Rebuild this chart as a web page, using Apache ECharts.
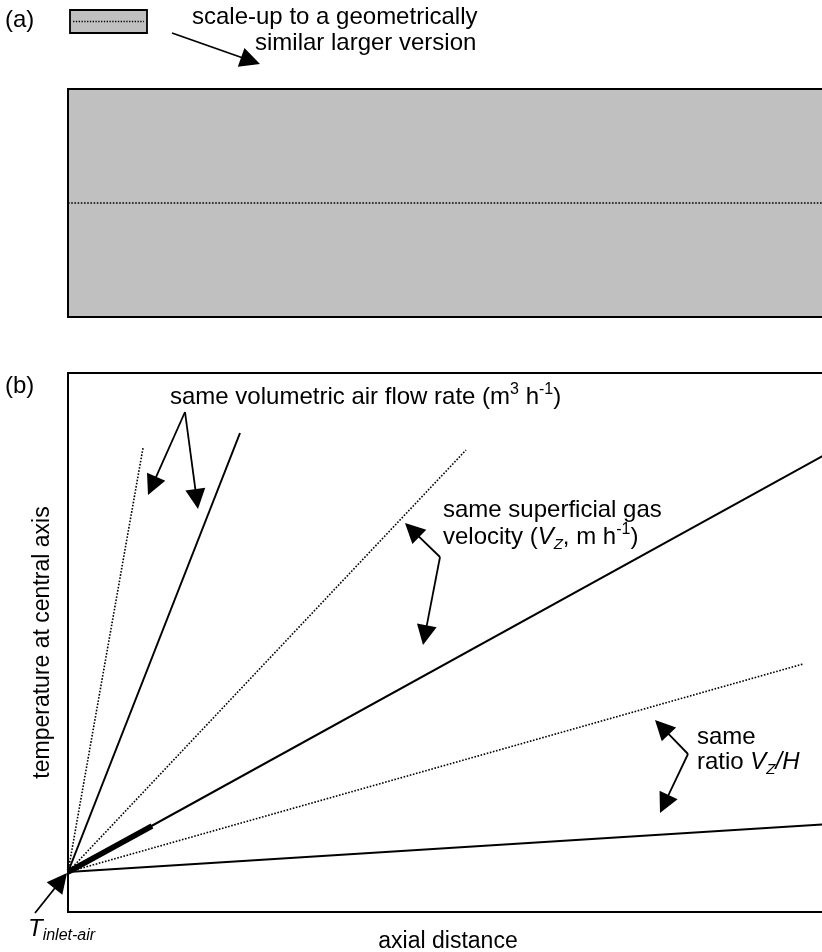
<!DOCTYPE html>
<html><head><meta charset="utf-8">
<script src="https://cdn.jsdelivr.net/npm/echarts@6/dist/echarts.min.js"></script>
<style>html,body{margin:0;padding:0;background:#fff}#c{width:822px;height:952px}</style>
</head><body><div id="c"></div><script>
// ---- Panel (b) data (arbitrary units: axial distance vs temperature at central axis) ----
const inletPoint = [0, 40];                 // T inlet-air
const seriesNames = [
  'small unit, same air flow rate', 'large unit, same air flow rate',
  'small unit, same Vz', 'large unit, same Vz',
  'small unit, same Vz/H', 'large unit, same Vz/H'
];
const endX = [75, 172, 398, 760, 735, 760];
const endY = [464, 479, 462, 459, 248, 88];
const dottedFlags = [true, false, true, false, true, false];
const thickSegmentEnd = [84, 86];           // bold part of the large-unit same-Vz line
// ---- Panel (a) data ----
const rectSpan = [0, 1];
const centralAxisY = 0.5;

const F = 'Liberation Sans, Arial, sans-serif';
const FS = 24;   // annotation text
const FA = 23;   // axis names

const DOT = {color: '#000', width: 1.6, type: [1.6, 1.6]};
const series = seriesNames.map((n, i) => ({
  name: n, type: 'line', xAxisIndex: 0, yAxisIndex: 0, symbol: 'none', silent: true,
  data: [inletPoint, [endX[i], endY[i]]],
  lineStyle: dottedFlags[i] ? DOT : {color: '#000', width: 2}
}));
series.push({
  name: 'scale-up start', type: 'line', xAxisIndex: 0, yAxisIndex: 0, symbol: 'none', silent: true,
  data: [inletPoint, thickSegmentEnd], lineStyle: {color: '#000', width: 5.5, cap: 'butt'}
});
series.push({
  name: 'large axis', type: 'line', xAxisIndex: 1, yAxisIndex: 1, symbol: 'none', silent: true,
  data: [[rectSpan[0], centralAxisY], [rectSpan[1], centralAxisY]],
  lineStyle: DOT
});
series.push({
  name: 'small axis', type: 'line', xAxisIndex: 2, yAxisIndex: 2, symbol: 'none', silent: true,
  data: [[0.04, centralAxisY], [0.96, centralAxisY]],
  lineStyle: {color: '#000', width: 1.3, type: [1.3, 1.5]}
});

// arrows (annotation graphics)
function arrow(from, to, len, hw) {
  len = len || 20; hw = hw || 10;
  const dx = to[0] - from[0], dy = to[1] - from[1];
  const L = Math.hypot(dx, dy), ux = dx / L, uy = dy / L;
  const bx = to[0] - ux * len, by = to[1] - uy * len;
  const nx = -uy, ny = ux;
  return [
    {type: 'polyline', silent: true, shape: {points: [from, [bx + ux * 2, by + uy * 2]]}, style: {stroke: '#000', lineWidth: 1.8, fill: null}},
    {type: 'polygon', silent: true, shape: {points: [to, [bx + nx * hw, by + ny * hw], [bx - nx * hw, by - ny * hw]]}, style: {fill: '#000'}}
  ];
}
function txt(x, y, text, rich, extra) {
  const st = Object.assign({text: text, fill: '#000', fontSize: FS, fontFamily: F, verticalAlign: 'middle', align: 'left'}, extra || {});
  if (rich) st.rich = rich;
  return {type: 'text', x: x, y: y, silent: true, style: st};
}
const richBase = {
  n: {fontSize: FS, fontFamily: F, lineHeight: 30},
  i: {fontSize: FS, fontFamily: F, fontStyle: 'italic', lineHeight: 30},
  s: {fontSize: 16, fontFamily: F, lineHeight: 14, verticalAlign: 'top'},
  sub: {fontSize: 15, fontFamily: F, fontStyle: 'italic', lineHeight: 18, verticalAlign: 'bottom'}
};
const richT = {
  n: {fontSize: FS, fontFamily: F, fontStyle: 'italic', lineHeight: 30},
  sub: {fontSize: 16, fontFamily: F, fontStyle: 'italic', lineHeight: 22, verticalAlign: 'bottom'}
};

let graphics = [];
graphics.push(txt(5, 20, '(a)'));
graphics.push(txt(192, 17, 'scale-up to a geometrically'));
graphics.push(txt(255, 43, 'similar larger version'));
graphics.push(txt(5, 386, '(b)'));
graphics.push(txt(170, 397, '{n|same volumetric air flow rate (m}{s|3}{n| h}{s|-1}{n|)}', richBase));
graphics.push(txt(443, 510, 'same superficial gas'));
graphics.push(txt(443, 537, '{n|velocity (}{i|V}{sub|Z}{n|, m h}{s|-1}{n|)}', richBase));
graphics.push(txt(697, 737, 'same'));
graphics.push(txt(697, 762, '{n|ratio }{i|V}{sub|Z}{i|/H}', richBase));
graphics.push(txt(28, 929, '{n|T}{sub|inlet-air}', richT));
graphics = graphics.concat(
  arrow([172, 33], [260, 64]),
  arrow([185, 412], [148, 495]),
  arrow([185, 412], [198, 509]),
  arrow([440, 557], [405, 523]),
  arrow([440, 557], [423, 645]),
  arrow([688, 754], [655, 720]),
  arrow([688, 754], [660, 813]),
  arrow([35, 913], [67, 873])
);

const chart = echarts.init(document.getElementById('c'), null, {renderer: 'canvas'});
const hiddenAxis = (gi) => ({type: 'value', gridIndex: gi, min: 0, max: 1, show: false});
chart.setOption({
  animation: false,
  backgroundColor: '#fff',
  grid: [
    {left: 68, top: 373, width: 760, height: 539, show: true, borderColor: '#000', borderWidth: 2, backgroundColor: 'transparent', outerBoundsMode: 'none', containLabel: false},
    {left: 68, top: 89, width: 760, height: 228, show: true, borderColor: '#000', borderWidth: 2, backgroundColor: '#c0c0c0', outerBoundsMode: 'none', containLabel: false},
    {left: 70, top: 10, width: 77, height: 23, show: true, borderColor: '#000', borderWidth: 1.8, backgroundColor: '#c0c0c0', outerBoundsMode: 'none', containLabel: false}
  ],
  xAxis: [
    {type: 'value', gridIndex: 0, min: 0, max: 760, name: 'axial distance', nameLocation: 'middle', nameGap: 18,
     nameTextStyle: {fontSize: FA, fontFamily: F, color: '#000'},
     axisLine: {show: false}, axisTick: {show: false}, axisLabel: {show: false}, splitLine: {show: false}},
    hiddenAxis(1), hiddenAxis(2)
  ],
  yAxis: [
    {type: 'value', gridIndex: 0, min: 0, max: 539, name: 'temperature at central axis', nameLocation: 'middle', nameGap: 14,
     nameTextStyle: {fontSize: FA, fontFamily: F, color: '#000'},
     axisLine: {show: false}, axisTick: {show: false}, axisLabel: {show: false}, splitLine: {show: false}},
    hiddenAxis(1), hiddenAxis(2)
  ],
  series: series,
  graphic: graphics
});
</script></body></html>
